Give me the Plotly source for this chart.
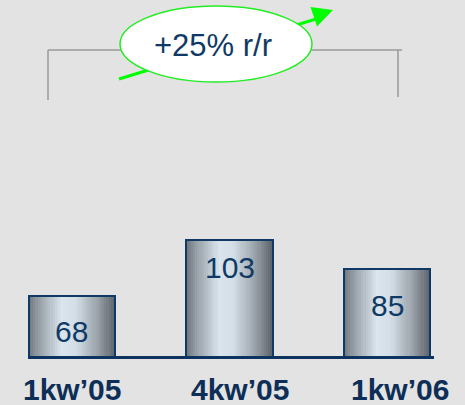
import plotly.graph_objects as go

categories = ["1kw\u201905", "4kw\u201905", "1kw\u201906"]
values = [68, 103, 85]
change_label = "+25% r/r"

NAVY = "#0f3a66"
LABEL_NAVY = "#0d2f57"
GREEN = "#00ff00"
BG = "#e3e3e3"
FONT = "Arial, Liberation Sans, sans-serif"

# plot area in pixels (for decorations)
W_PX, H_PX = 465, 405
ML, MR, MT, MB = 28, 31, 0, 49
PW = W_PX - ML - MR
PH = H_PX - MT - MB


def px(x):
    return (x - ML) / PW


def py(y):
    return (H_PX - MB - y) / PH


# horizontal gradient stops (t across bar width -> colour)
stops = [(0.0, (0x70, 0x76, 0x7e)), (0.12, (0x98, 0xa0, 0xa8)), (0.38, (0xda, 0xe5, 0xee)),
         (0.55, (0xd2, 0xdd, 0xe6)), (0.8, (0x9a, 0xa1, 0xa9)), (1.0, (0x5c, 0x62, 0x6a))]


def grad(t):
    for (t0, c0), (t1, c1) in zip(stops[:-1], stops[1:]):
        if t0 <= t <= t1:
            f = (t - t0) / (t1 - t0)
            return "rgb(%d,%d,%d)" % tuple(round(a + (b - a) * f) for a, b in zip(c0, c1))
    return "rgb(%d,%d,%d)" % stops[-1][1]


BW = 0.546
N = 40
fig = go.Figure()
for i in range(N):
    t = i / N
    fig.add_trace(go.Bar(
        x=list(range(len(categories))), y=values,
        offset=-BW / 2 + t * BW, width=BW * (1 - t),
        marker=dict(color=grad(t + 0.5 / N), line=dict(width=0)),
        hoverinfo="skip", showlegend=False,
    ))

fig.add_trace(go.Bar(
    x=list(range(len(categories))), y=values, width=BW,
    marker=dict(color="rgba(0,0,0,0)", line=dict(color=NAVY, width=2)),
    showlegend=False,
))

# value labels inside the bars
value_shift = [-17, -9, -18]
for i, v in enumerate(values):
    fig.add_annotation(x=i, xref="x", y=v, yref="y", text=str(v), showarrow=False,
                       yanchor="top", yshift=value_shift[i],
                       font=dict(family=FONT, size=30, color=NAVY))

# category labels
label_shift = [0, 10, 13]
for i, c in enumerate(categories):
    fig.add_annotation(x=i, xref="x", y=py(389), yref="paper", text=c, showarrow=False,
                       xshift=label_shift[i], yanchor="middle",
                       font=dict(family=FONT, size=30, color=LABEL_NAVY, weight="bold"))

shapes = [
    # bracket
    dict(type="line", xref="paper", yref="paper", x0=px(48), x1=px(402), y0=py(50), y1=py(50),
         line=dict(color="#9a9a9a", width=1.5)),
    dict(type="line", xref="paper", yref="paper", x0=px(48), x1=px(48), y0=py(50), y1=py(100),
         line=dict(color="#9a9a9a", width=1.5)),
    dict(type="line", xref="paper", yref="paper", x0=px(398), x1=px(398), y0=py(50), y1=py(97),
         line=dict(color="#9a9a9a", width=1.5)),
    # arrow
    dict(type="line", xref="paper", yref="paper", x0=px(119), y0=py(79), x1=px(316), y1=py(19),
         line=dict(color=GREEN, width=3)),
    dict(type="path", xref="paper", yref="paper",
         path="M %f,%f L %f,%f L %f,%f Z" % (px(310.5), py(7), px(333), py(10), px(317), py(26.5)),
         fillcolor=GREEN, line=dict(color=GREEN, width=0)),
    # ellipse
    dict(type="circle", xref="paper", yref="paper", x0=px(120), x1=px(312), y0=py(82), y1=py(6),
         fillcolor="white", line=dict(color="#22ee22", width=1.5)),
]

fig.add_annotation(x=px(212.5), y=py(45), xref="paper", yref="paper", text=change_label,
                   showarrow=False, yanchor="middle",
                   font=dict(family=FONT, size=31, color=NAVY))

fig.update_layout(
    width=W_PX, height=H_PX,
    margin=dict(l=ML, r=MR, t=MT, b=MB, pad=0),
    paper_bgcolor=BG, plot_bgcolor=BG,
    barmode="overlay", bargap=0,
    shapes=shapes,
    xaxis=dict(range=[-0.279, 2.298], showgrid=False, zeroline=False, showticklabels=False,
               ticks="", showline=True, linecolor="#0d3361", linewidth=3, fixedrange=True),
    yaxis=dict(range=[30.7, 253.3], showgrid=False, zeroline=False, showticklabels=False,
               ticks="", showline=False, fixedrange=True),
)

fig.write_html("out.html", config={"displayModeBar": False},
               post_script="document.body.style.margin='0';document.body.style.background='%s';" % BG)
